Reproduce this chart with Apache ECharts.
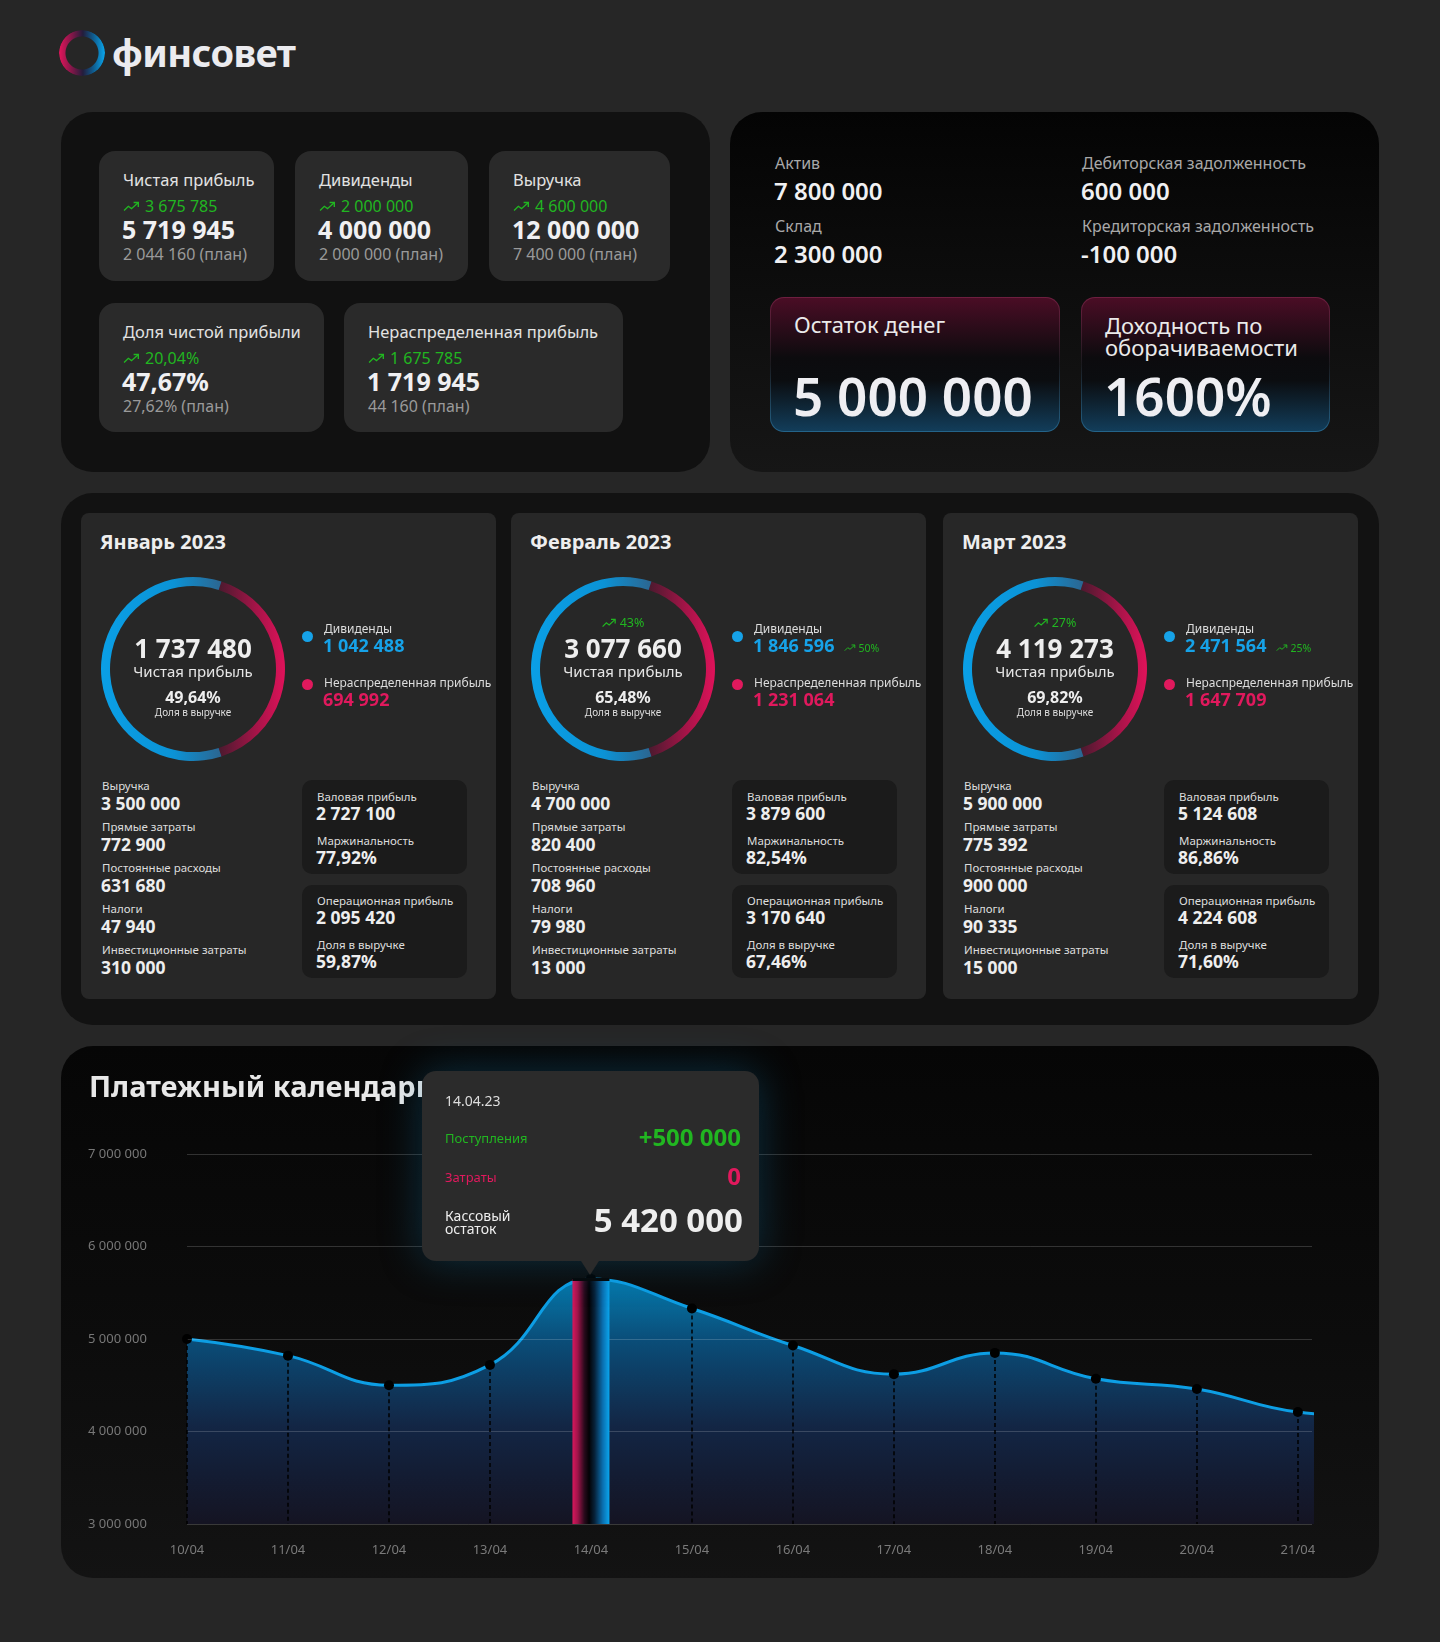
<!DOCTYPE html>
<html>
<head>
<meta charset="utf-8">
<script src="https://cdn.jsdelivr.net/npm/echarts@6/dist/echarts.min.js"></script>
<style>
  body { margin: 0; background: #262626; font-family: 'Noto Sans', sans-serif; color: #fff; }
  #page { position: relative; width: 1440px; height: 1642px; overflow: hidden; }
  .panel { position: absolute; border-radius: 32px; }
  .card { position: absolute; border-radius: 16px; background: #2a2a2a; }
  .mcard { position: absolute; border-radius: 8px; background: #272727; }
  .sbox { position: absolute; border-radius: 10px; background: #1b1b1b; }
  .hl { position: absolute; border-radius: 14px; border: 1px solid transparent;
        background: linear-gradient(180deg, #4a0d25 0%, #0c0b0e 45%, #0b0d10 62%, #123d5a 100%) padding-box,
                    linear-gradient(180deg, #6e1f40 0%, #1a1a1e 50%, #24648a 100%) border-box; }
  .t { position: absolute; transform: translateY(-50%); white-space: nowrap; line-height: 1.15; }
  .tc { position: absolute; transform: translate(-50%, -50%); white-space: nowrap; line-height: 1.15; text-align: center; }
  .dot { position: absolute; width: 11px; height: 11px; border-radius: 50%; }
  .abs { position: absolute; }
</style>
</head>
<body>
<div id="page"></div>
<script>
// ---- data ----
var kpiLabels = ['Чистая прибыль', 'Дивиденды', 'Выручка', 'Доля чистой прибыли', 'Нераспределенная прибыль'];
var kpiDelta = ['3 675 785', '2 000 000', '4 600 000', '20,04%', '1 675 785'];
var kpiValue = ['5 719 945', '4 000 000', '12 000 000', '47,67%', '1 719 945'];
var kpiPlan = ['2 044 160', '2 000 000', '7 400 000', '27,62%', '44 160'];

var balanceLabels = ['Актив', 'Склад', 'Дебиторская задолженность', 'Кредиторская задолженность'];
var balanceValues = ['7 800 000', '2 300 000', '600 000', '-100 000'];
var highlightLabels = ['Остаток денег', 'Доходность по<br>оборачиваемости'];
var highlightValues = ['5 000 000', '1600%'];

var months = ['Январь 2023', 'Февраль 2023', 'Март 2023'];
var netProfit = [1737480, 3077660, 4119273];
var netProfitGrowth = [null, '43%', '27%'];
var revenueShare = ['49,64%', '65,48%', '69,82%'];
var dividends = [1042488, 1846596, 2471564];
var dividendsGrowth = [null, '50%', '25%'];
var retained = [694992, 1231064, 1647709];
var revenue = [3500000, 4700000, 5900000];
var directCosts = [772900, 820400, 775392];
var fixedCosts = [631680, 708960, 900000];
var taxes = [47940, 79980, 90335];
var investCosts = [310000, 13000, 15000];
var grossProfit = [2727100, 3879600, 5124608];
var margin = ['77,92%', '82,54%', '86,86%'];
var opProfit = [2095420, 3170640, 4224608];
var opShare = ['59,87%', '67,46%', '71,60%'];

var payDates = ['10/04', '11/04', '12/04', '13/04', '14/04', '15/04', '16/04', '17/04', '18/04', '19/04', '20/04', '21/04', '22/04'];
var payBalance = [5000000, 4820000, 4500000, 4720000, 5650000, 5330000, 4930000, 4620000, 4850000, 4570000, 4460000, 4210000, 4150000];
var visibleDays = 12;
var selectedDay = 4;
var tipDate = '14.04.23';
var tipIncome = 500000;
var tipCosts = 0;
var tipBalance = 5420000;
var yMin = 3000000, yMax = 7000000, yStep = 1000000;

// ---- helpers ----
var GREEN = '#21b621', BLUE = '#16a2e8', RED = '#e0195d';
function fmt(n) { return String(n).replace(/\B(?=(\d{3})+(?!\d))/g, ' '); }
function el(parent, cls, style, html) {
    var d = document.createElement('div');
    if (cls) d.className = cls;
    if (style) d.style.cssText = style;
    if (html != null) d.innerHTML = html;
    parent.appendChild(d);
    return d;
}
function txt(parent, x, y, html, style) {
    return el(parent, 't', 'left:' + x + 'px;top:' + y + 'px;' + (style || ''), html);
}
function trend(w, h, gap) {
    return '<svg width="' + w + '" height="' + h + '" viewBox="0 0 16 10" style="vertical-align:middle;margin-right:' + gap + 'px;position:relative;top:-1px">' +
        '<polyline points="1,9 5,5 8,7.2 14.2,1.6" fill="none" stroke="' + GREEN + '" stroke-width="1.3"/>' +
        '<polyline points="10,1.4 14.4,1.4 14.4,5.6" fill="none" stroke="' + GREEN + '" stroke-width="1.3"/></svg>';
}

var page = document.getElementById('page');

// ---- logo ----
el(page, 'abs', 'left:59px;top:30px;width:46px;height:46px;border-radius:50%;' +
    'background:linear-gradient(90deg,#e3155b 0%,#7a1747 30%,#231d3c 52%,#0f5d8f 75%,#0aa6ec 100%);' +
    '-webkit-mask:radial-gradient(circle,transparent 16px,#000 17px);mask:radial-gradient(circle,transparent 16px,#000 17px);');
txt(page, 112, 53, 'финсовет', 'font-size:38px;font-weight:700;color:#ebebef;letter-spacing:-0.6px;');

// ---- top-left KPI panel ----
var tl = el(page, 'panel', 'left:61px;top:112px;width:649px;height:360px;background:#111;');
var kpiBoxes = [[38, 39, 175, 130], [234, 39, 173, 130], [428, 39, 181, 130], [38, 191, 225, 129], [283, 191, 279, 129]];
kpiBoxes.forEach(function (b, i) {
    var c = el(tl, 'card', 'left:' + b[0] + 'px;top:' + b[1] + 'px;width:' + b[2] + 'px;height:' + b[3] + 'px;');
    txt(c, 24, 29, kpiLabels[i], 'font-size:16.5px;color:#e2e2e2;');
    txt(c, 24, 55, trend(17, 11, 5) + kpiDelta[i], 'font-size:16px;color:' + GREEN + ';');
    txt(c, 23, 78, kpiValue[i], 'font-size:25px;font-weight:700;color:#f0f0f2;');
    txt(c, 24, 103, kpiPlan[i] + ' (план)', 'font-size:16px;color:#9a9a9a;');
});

// ---- top-right balance panel ----
var tr = el(page, 'panel', 'left:730px;top:112px;width:649px;height:360px;background:linear-gradient(180deg,#040404 0%,#161616 100%);');
var balPos = [[45, 51], [45, 114], [352, 51], [352, 114]];
balanceLabels.forEach(function (l, i) {
    txt(tr, balPos[i][0], balPos[i][1], l, 'font-size:16px;color:#a8a8a8;');
    txt(tr, balPos[i][0] - 1, balPos[i][1] + 28, balanceValues[i], 'font-size:24px;font-weight:600;color:#f0f0f2;');
});
var hlBoxes = [[40, 185, 290, 135], [351, 185, 249, 135]];
hlBoxes.forEach(function (b, i) {
    var h = el(tr, 'hl', 'left:' + b[0] + 'px;top:' + b[1] + 'px;width:' + (b[2] - 2) + 'px;height:' + (b[3] - 2) + 'px;');
    if (i === 0) txt(h, 23, 27, highlightLabels[i], 'font-size:22px;color:#eaeaea;');
    else txt(h, 23, 38, highlightLabels[i], 'font-size:22px;color:#eaeaea;line-height:22px;');
    txt(h, 22, 98, highlightValues[i], 'font-size:53px;font-weight:600;color:#eeeef2;');
});

// ---- monthly panel ----
var mid = el(page, 'panel', 'left:61px;top:493px;width:1318px;height:532px;background:#121212;');
var cardLeft = [20, 450, 882];
var listLabels = ['Выручка', 'Прямые затраты', 'Постоянные расходы', 'Налоги', 'Инвестиционные затраты'];
var listSeries = [revenue, directCosts, fixedCosts, taxes, investCosts];

months.forEach(function (m, i) {
    var c = el(mid, 'mcard', 'left:' + cardLeft[i] + 'px;top:20px;width:415px;height:486px;');
    txt(c, 19, 28, m, 'font-size:20px;font-weight:700;color:#eeeeee;');

    var d = el(c, 'abs', 'left:12px;top:56px;width:200px;height:200px;');
    var ch = echarts.init(d);
    ch.setOption({
        animation: false,
        series: [{
            type: 'pie',
            silent: true,
            radius: [83, 92],
            center: ['50%', '50%'],
            startAngle: 72,
            label: { show: false },
            labelLine: { show: false },
            itemStyle: { borderWidth: 0 },
            data: [
                { value: retained[i], itemStyle: { color: new echarts.graphic.LinearGradient(0, 0, 1, 0, [
                    { offset: 0, color: '#4a1a2e' }, { offset: 0.55, color: '#a31447' }, { offset: 1, color: '#e0125a' }]) } },
                { value: dividends[i], itemStyle: { color: new echarts.graphic.LinearGradient(0, 0, 1, 0, [
                    { offset: 0, color: '#0a9fe6' }, { offset: 0.6, color: '#0b93d6' }, { offset: 1, color: '#2c6590' }]) } }
            ]
        }]
    });

    if (netProfitGrowth[i]) {
        el(c, 'tc', 'left:112px;top:110px;font-size:12.5px;color:' + GREEN + ';', trend(15, 10, 3) + netProfitGrowth[i]);
    }
    el(c, 'tc', 'left:112px;top:136px;font-size:26px;font-weight:700;color:#eeeeee;', fmt(netProfit[i]));
    el(c, 'tc', 'left:112px;top:159px;font-size:15px;color:#e6e6e6;', 'Чистая прибыль');
    el(c, 'tc', 'left:112px;top:184px;font-size:16px;font-weight:700;color:#eeeeee;', revenueShare[i]);
    el(c, 'tc', 'left:112px;top:200px;font-size:10px;color:#dddddd;', 'Доля в выручке');

    el(c, 'dot', 'left:221px;top:118px;background:' + BLUE + ';');
    txt(c, 243, 116, 'Дивиденды', 'font-size:12px;color:#dddddd;');
    txt(c, 242, 132, fmt(dividends[i]) + (dividendsGrowth[i]
        ? '<span style="font-size:10.5px;font-weight:400;color:' + GREEN + ';margin-left:10px;">' + trend(12, 8, 2) + dividendsGrowth[i] + '</span>' : ''),
        'font-size:18px;font-weight:700;color:' + BLUE + ';');
    el(c, 'dot', 'left:221px;top:166px;background:' + RED + ';');
    txt(c, 243, 170, 'Нераспределенная прибыль', 'font-size:12px;color:#dddddd;');
    txt(c, 242, 186, fmt(retained[i]), 'font-size:18px;font-weight:700;color:' + RED + ';');

    listLabels.forEach(function (l, k) {
        txt(c, 21, 273 + k * 41, l, 'font-size:11.5px;color:#dddddd;');
        txt(c, 20, 290 + k * 41, fmt(listSeries[k][i]), 'font-size:17.5px;font-weight:700;color:#eeeeee;');
    });

    var b1 = el(c, 'sbox', 'left:221px;top:267px;width:165px;height:94px;');
    txt(b1, 15, 17, 'Валовая прибыль', 'font-size:11.5px;color:#dddddd;');
    txt(b1, 14, 33, fmt(grossProfit[i]), 'font-size:17.5px;font-weight:700;color:#eeeeee;');
    txt(b1, 15, 61, 'Маржинальность', 'font-size:11.5px;color:#dddddd;');
    txt(b1, 14, 77, margin[i], 'font-size:17.5px;font-weight:700;color:#eeeeee;');
    var b2 = el(c, 'sbox', 'left:221px;top:372px;width:165px;height:93px;');
    txt(b2, 15, 16, 'Операционная прибыль', 'font-size:11.5px;color:#dddddd;');
    txt(b2, 14, 32, fmt(opProfit[i]), 'font-size:17.5px;font-weight:700;color:#eeeeee;');
    txt(b2, 15, 60, 'Доля в выручке', 'font-size:11.5px;color:#dddddd;');
    txt(b2, 14, 76, opShare[i], 'font-size:17.5px;font-weight:700;color:#eeeeee;');
});

// ---- payment calendar ----
var bot = el(page, 'panel', 'left:61px;top:1046px;width:1318px;height:532px;background:linear-gradient(180deg,#060606 0%,#0c0c0c 55%,#131313 100%);');
var chartDom = el(bot, 'abs', 'left:0;top:0;width:1318px;height:532px;');
var payChart = echarts.init(chartDom);

var lineData = payBalance.map(function (v, i) { return [i, v]; });
var dropLines = [];
for (var i = 0; i < visibleDays; i++) {
    dropLines.push([{ coord: [i, payBalance[i]] }, { coord: [i, yMin] }]);
}

function renderBand(params, api) {
    var top = api.coord([api.value(0), api.value(1)]);
    var bottom = api.coord([api.value(0), yMin]);
    var w = 37;
    return {
        type: 'group',
        children: [{
            type: 'rect',
            shape: { x: top[0] - w / 2, y: top[1], width: w, height: bottom[1] - top[1] },
            style: {
                fill: new echarts.graphic.LinearGradient(0, 0, 1, 0, [
                    { offset: 0, color: '#d8175c' },
                    { offset: 0.14, color: '#a0144a' },
                    { offset: 0.32, color: '#2a0a1c' },
                    { offset: 0.45, color: '#020205' },
                    { offset: 0.6, color: '#07223a' },
                    { offset: 0.82, color: '#0a6fb0' },
                    { offset: 1, color: '#0aa6ee' }
                ])
            }
        }, {
            type: 'rect',
            shape: { x: top[0] - w / 2, y: top[1] - 1, width: w, height: 3 },
            style: { fill: '#050505' }
        }]
    };
}

var option = {
    animation: false,
    title: {
        text: 'Платежный календарь',
        left: 23,
        top: 23,
        textStyle: { color: '#e8e8e8', fontSize: 29, fontWeight: 'bold', fontFamily: 'Noto Sans' }
    },
    grid: { left: 126, right: 67, top: 108, bottom: 54 },
    tooltip: {
        trigger: 'item',
        triggerOn: 'none',
        alwaysShowContent: true,
        transitionDuration: 0,
        backgroundColor: '#2b2b2b',
        borderWidth: 0,
        padding: 0,
        extraCssText: 'border-radius:14px;box-shadow:0 0 42px rgba(20,120,170,0.35);',
        position: function (point, params, dom, rect, size) {
            var p = payChart.convertToPixel({ gridIndex: 0 }, [selectedDay, payBalance[selectedDay]]);
            return [p[0] - size.contentSize[0] / 2, p[1] - size.contentSize[1] - 18];
        },
        formatter: function () {
            var s = 'position:absolute;transform:translateY(-50%);white-space:nowrap;line-height:1.15;';
            return '<div style="position:relative;width:337px;height:190px;font-family:Noto Sans;">' +
                '<div style="' + s + 'left:23px;top:30px;font-size:14px;color:#dddddd;">' + tipDate + '</div>' +
                '<div style="' + s + 'left:23px;top:67px;font-size:13px;color:' + GREEN + ';">Поступления</div>' +
                '<div style="' + s + 'right:18px;top:66px;font-size:24px;font-weight:700;color:' + GREEN + ';">+' + fmt(tipIncome) + '</div>' +
                '<div style="' + s + 'left:23px;top:106px;font-size:13px;color:' + RED + ';">Затраты</div>' +
                '<div style="' + s + 'right:18px;top:105px;font-size:24px;font-weight:700;color:' + RED + ';">' + fmt(tipCosts) + '</div>' +
                '<div style="' + s + 'left:23px;top:151px;font-size:14px;color:#eeeeee;line-height:13px;">Кассовый<br>остаток</div>' +
                '<div style="' + s + 'right:16px;top:149px;font-size:33px;font-weight:700;color:#eeeeee;">' + fmt(tipBalance) + '</div>' +
                '<div style="position:absolute;left:159px;bottom:-14px;width:0;height:0;border-left:9px solid transparent;border-right:9px solid transparent;border-top:14px solid #2b2b2b;"></div>' +
                '</div>';
        }
    },
    xAxis: {
        type: 'value',
        min: 0,
        max: 11.14,
        interval: 1,
        axisLine: { show: false },
        axisTick: { show: false },
        splitLine: { show: false },
        axisLabel: {
            color: '#7a7a7a',
            fontSize: 13,
            fontFamily: 'Noto Sans',
            margin: 20,
            formatter: function (v) {
                return (Math.abs(v - Math.round(v)) < 1e-6 && payDates[Math.round(v)]) ? payDates[Math.round(v)] : '';
            }
        }
    },
    yAxis: {
        type: 'value',
        min: yMin,
        max: yMax,
        interval: yStep,
        z: 3,
        axisLine: { show: false },
        axisTick: { show: false },
        splitLine: { lineStyle: { color: 'rgba(255,255,255,0.17)', width: 1 } },
        axisLabel: {
            color: '#777777',
            fontSize: 13,
            fontFamily: 'Noto Sans',
            align: 'left',
            margin: 99,
            formatter: function (v) { return fmt(v); }
        }
    },
    series: [{
        type: 'line',
        data: lineData,
        smooth: 0.45,
        clip: true,
        z: 2,
        symbol: 'circle',
        symbolSize: 10,
        itemStyle: { color: '#000000' },
        lineStyle: { color: '#0d9ee4', width: 3 },
        areaStyle: {
            color: new echarts.graphic.LinearGradient(0, 0, 0, 1, [
                { offset: 0, color: '#03aaf2' },
                { offset: 0.25, color: '#0a6aa8' },
                { offset: 0.6, color: '#15305c' },
                { offset: 1, color: '#16152a' }
            ])
        },
        markLine: {
            silent: true,
            symbol: ['none', 'none'],
            label: { show: false },
            lineStyle: { color: '#000000', type: [4, 3], width: 1.5 },
            data: dropLines
        }
    }, {
        type: 'custom',
        z: 5,
        silent: true,
        renderItem: renderBand,
        data: [[selectedDay, payBalance[selectedDay]]]
    }]
};

payChart.setOption(option);
payChart.dispatchAction({ type: 'showTip', seriesIndex: 0, dataIndex: selectedDay });
setTimeout(function () {
    payChart.dispatchAction({ type: 'showTip', seriesIndex: 0, dataIndex: selectedDay });
}, 60);
</script>
</body>
</html>
